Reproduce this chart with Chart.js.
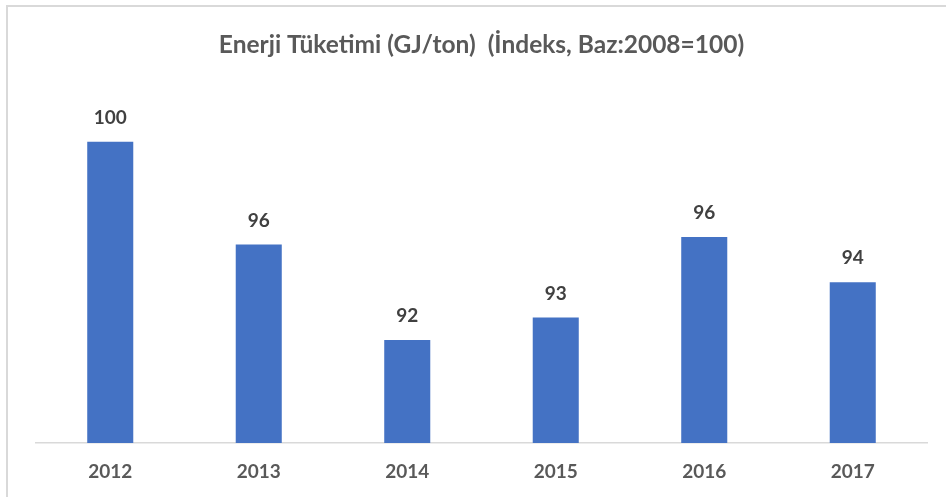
<!DOCTYPE html>
<html>
<head>
<meta charset="utf-8">
<script src="https://cdn.jsdelivr.net/npm/chart.js@4"></script>
<style>
  html, body { margin: 0; padding: 0; background: #fff; }
  #wrap { position: relative; width: 946px; height: 497px; }
  #frame {
    position: absolute; left: 6px; top: 5px; right: 0; bottom: 0;
    border-top: 2px solid #d9d9d9; border-left: 2px solid #d9d9d9;
    pointer-events: none;
  }
</style>
</head>
<body>
<div id="wrap">
  <canvas id="energyChart" width="946" height="497"></canvas>
  <div id="frame"></div>
</div>
<script>
const years = ["2012", "2013", "2014", "2015", "2016", "2017"];
const indexValues = [100.0, 95.9, 92.1, 93.0, 96.2, 94.4];
const chartTitle = "Enerji Tüketimi (GJ/ton)  (İndeks, Baz:2008=100)";

const FONT = "Lato, 'Open Sans', sans-serif";

// labels above bars
const barLabels = {
  id: "barLabels",
  afterDatasetsDraw(chart) {
    const ctx = chart.ctx;
    const meta = chart.getDatasetMeta(0);
    ctx.save();
    ctx.font = "bold 19px " + FONT;
    ctx.fillStyle = "#404040";
    ctx.textAlign = "center";
    ctx.textBaseline = "middle";
    meta.data.forEach((bar, i) => {
      ctx.fillText(Math.round(indexValues[i]), bar.x, bar.y - 24);
    });
    ctx.restore();
  },
};

new Chart(document.getElementById("energyChart"), {
  type: "bar",
  data: {
    labels: years,
    datasets: [
      {
        data: indexValues,
        backgroundColor: "#4472c4",
        borderWidth: 0,
        categoryPercentage: 1,
        barPercentage: 0.31,
      },
    ],
  },
  options: {
    responsive: false,
    animation: false,
    layout: { padding: { left: 36, right: 19, top: 0, bottom: 0 } },
    plugins: {
      legend: { display: false },
      tooltip: { enabled: false },
      title: {
        display: true,
        text: chartTitle,
        color: "#595959",
        font: { family: FONT, size: 24.5, weight: "bold" },
        padding: { top: 30, bottom: 32 },
      },
    },
    scales: {
      x: {
        grid: { display: false, drawTicks: false },
        border: { display: true, color: "#d9d9d9", width: 1.5 },
        ticks: {
          color: "#595959",
          font: { family: FONT, size: 19, weight: "bold" },
          padding: 17,
        },
        afterFit: (scale) => {
          scale.height = 54;
        },
      },
      y: {
        display: false,
        min: 88,
        max: 102,
      },
    },
  },
  plugins: [barLabels],
});
</script>
</body>
</html>
